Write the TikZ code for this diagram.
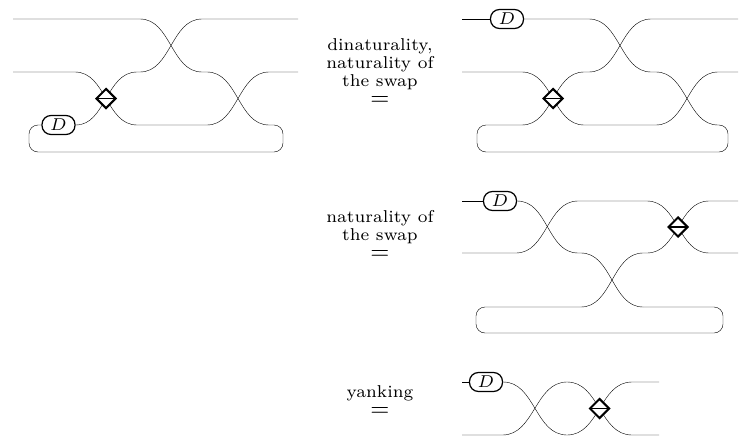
\documentclass[tikz,border=0pt]{standalone}
\usepackage{graphicx}
\usetikzlibrary{shapes.geometric,backgrounds}
\newcommand{\eqstack}[1]{\vbox{\fontsize{7}{7.2}\selectfont\baselineskip=7.2pt\lineskiplimit=-20pt\lineskip=0pt
  \halign{\hfil##\hfil\cr #1\noalign{\vskip0.5pt}{\fontsize{10}{10}\selectfont$=$}\cr}}}
\begin{document}
\begin{tikzpicture}[x=1pt,y=-1pt,
  wire/.style={line width=1.25pt},
  dbox/.style={draw,line width=1.25pt,fill=white,rounded corners=9pt,minimum width=33pt,minimum height=19pt,inner sep=0pt},
  swapbox/.style={draw,diamond,line width=2pt,fill=white,minimum width=20pt,minimum height=20pt,inner sep=0pt,
    path picture={\draw[line width=1.7pt] (path picture bounding box.west) -- (path picture bounding box.east);}},
  lbl/.style={inner sep=0pt,scale=2.45,anchor=base}]
\useasboundingbox (0,0) rectangle (739,439);

% ---------- diagram 1 ----------
\node[dbox] (D1) at (58.5,125) {\scalebox{2.45}{$\scriptstyle D$}};
\node[swapbox] (dm1) at (106,98.5) {};
\coordinate (a1) at (13,19);
\coordinate (b1) at (13,72);
\coordinate (c1) at (298,19);
\coordinate (d1) at (298,72);
\begin{scope}[on background layer,wire]
\draw (a1) -- (140,19) .. controls +(31,0) and +(-31,0) .. (202,72) -- (207,72)
  .. controls +(31,0) and +(-31,0) .. (269,125);
\draw[rounded corners=9pt] (269,125) -- (283,125) -- (283,152) -- (29,152) -- (29,125) -- (D1.west);
\draw (D1.east) .. controls +(15.5,0) and +(-7.75,13.25) .. (dm1.center)
  .. controls +(7.75,-13.25) and +(-15.5,0) .. (137,72) -- (140,72)
  .. controls +(31,0) and +(-31,0) .. (202,19) -- (c1);
\draw (b1) -- (75,72) .. controls +(15.5,0) and +(-7.75,-13.25) .. (dm1.center)
  .. controls +(7.75,13.25) and +(-15.5,0) .. (137,125) -- (207,125)
  .. controls +(31,0) and +(-31,0) .. (269,72) -- (d1);
\end{scope}

% ---------- diagram 2 ----------
\node[dbox] (D2) at (507,19) {\scalebox{2.45}{$\scriptstyle D$}};
\node[swapbox] (dm2) at (553,98.5) {};
\coordinate (a2) at (462,19);
\coordinate (b2) at (462,72);
\coordinate (c2) at (738,19);
\coordinate (d2) at (738,72);
\begin{scope}[on background layer,wire]
\draw (a2) -- (D2.west);
\draw (D2.east) -- (589,19) .. controls +(31,0) and +(-31,0) .. (651,72) -- (656,72)
  .. controls +(31,0) and +(-31,0) .. (718,125);
\draw[rounded corners=9pt] (718,125) -- (728,125) -- (728,152) -- (477,152) -- (477,125) -- (522,125);
\draw (522,125) .. controls +(15.5,0) and +(-7.75,13.25) .. (dm2.center)
  .. controls +(7.75,-13.25) and +(-15.5,0) .. (584,72) -- (589,72)
  .. controls +(31,0) and +(-31,0) .. (651,19) -- (c2);
\draw (b2) -- (522,72) .. controls +(15.5,0) and +(-7.75,-13.25) .. (dm2.center)
  .. controls +(7.75,13.25) and +(-15.5,0) .. (584,125) -- (656,125)
  .. controls +(31,0) and +(-31,0) .. (718,72) -- (d2);
\end{scope}

% ---------- diagram 3 ----------
\node[dbox] (D3) at (500,201) {\scalebox{2.45}{$\scriptstyle D$}};
\node[swapbox] (dm3) at (678,227) {};
\coordinate (a3) at (462,201);
\coordinate (b3) at (462,253);
\coordinate (c3) at (738,201);
\coordinate (d3) at (738,253);
\begin{scope}[on background layer,wire]
\draw (a3) -- (D3.west);
\draw (D3.east) .. controls +(31,0) and +(-31,0) .. (578,253) -- (581,253)
  .. controls +(31,0) and +(-31,0) .. (643,307);
\draw[rounded corners=9pt] (643,307) -- (723,307) -- (723,333) -- (476,333) -- (476,307) -- (581,307);
\draw (581,307) .. controls +(31,0) and +(-31,0) .. (643,253) -- (647,253)
  .. controls +(15.5,0) and +(-7.75,13) .. (dm3.center)
  .. controls +(7.75,-13) and +(-15.5,0) .. (709,201) -- (c3);
\draw (b3) -- (516,253) .. controls +(31,0) and +(-31,0) .. (578,201) -- (647,201)
  .. controls +(15.5,0) and +(-7.75,-13) .. (dm3.center)
  .. controls +(7.75,13) and +(-15.5,0) .. (709,253) -- (d3);
\end{scope}

% ---------- diagram 4 ----------
\node[dbox] (D4) at (486,382) {\scalebox{2.45}{$\scriptstyle D$}};
\node[swapbox] (dm4) at (599.5,408.5) {};
\coordinate (a4) at (462,382);
\coordinate (b4) at (462,435);
\coordinate (c4) at (659,382);
\coordinate (d4) at (659,435);
\begin{scope}[on background layer,wire]
\draw (a4) -- (D4.west);
\draw (D4.east) .. controls +(32,0) and +(-32,0) .. (567,435)
  .. controls +(16.25,0) and +(-8.125,13.25) .. (dm4.center)
  .. controls +(8.125,-13.25) and +(-16.25,0) .. (632,382) -- (c4);
\draw (b4) -- (502.5,435) .. controls +(32,0) and +(-32,0) .. (567,382)
  .. controls +(16.25,0) and +(-8.125,-13.25) .. (dm4.center)
  .. controls +(8.125,13.25) and +(-16.25,0) .. (632,435) -- (d4);
\end{scope}

% ---------- labels ----------
\node[lbl] (t1) at (380,105) {\eqstack{dinaturality,\cr naturality of\cr the swap\cr}};
\node[lbl] (t2) at (380,259.5) {\eqstack{naturality of\cr the swap\cr}};
\node[lbl] (t3) at (380,416) {\eqstack{yanking\cr}};
\end{tikzpicture}
\end{document}
